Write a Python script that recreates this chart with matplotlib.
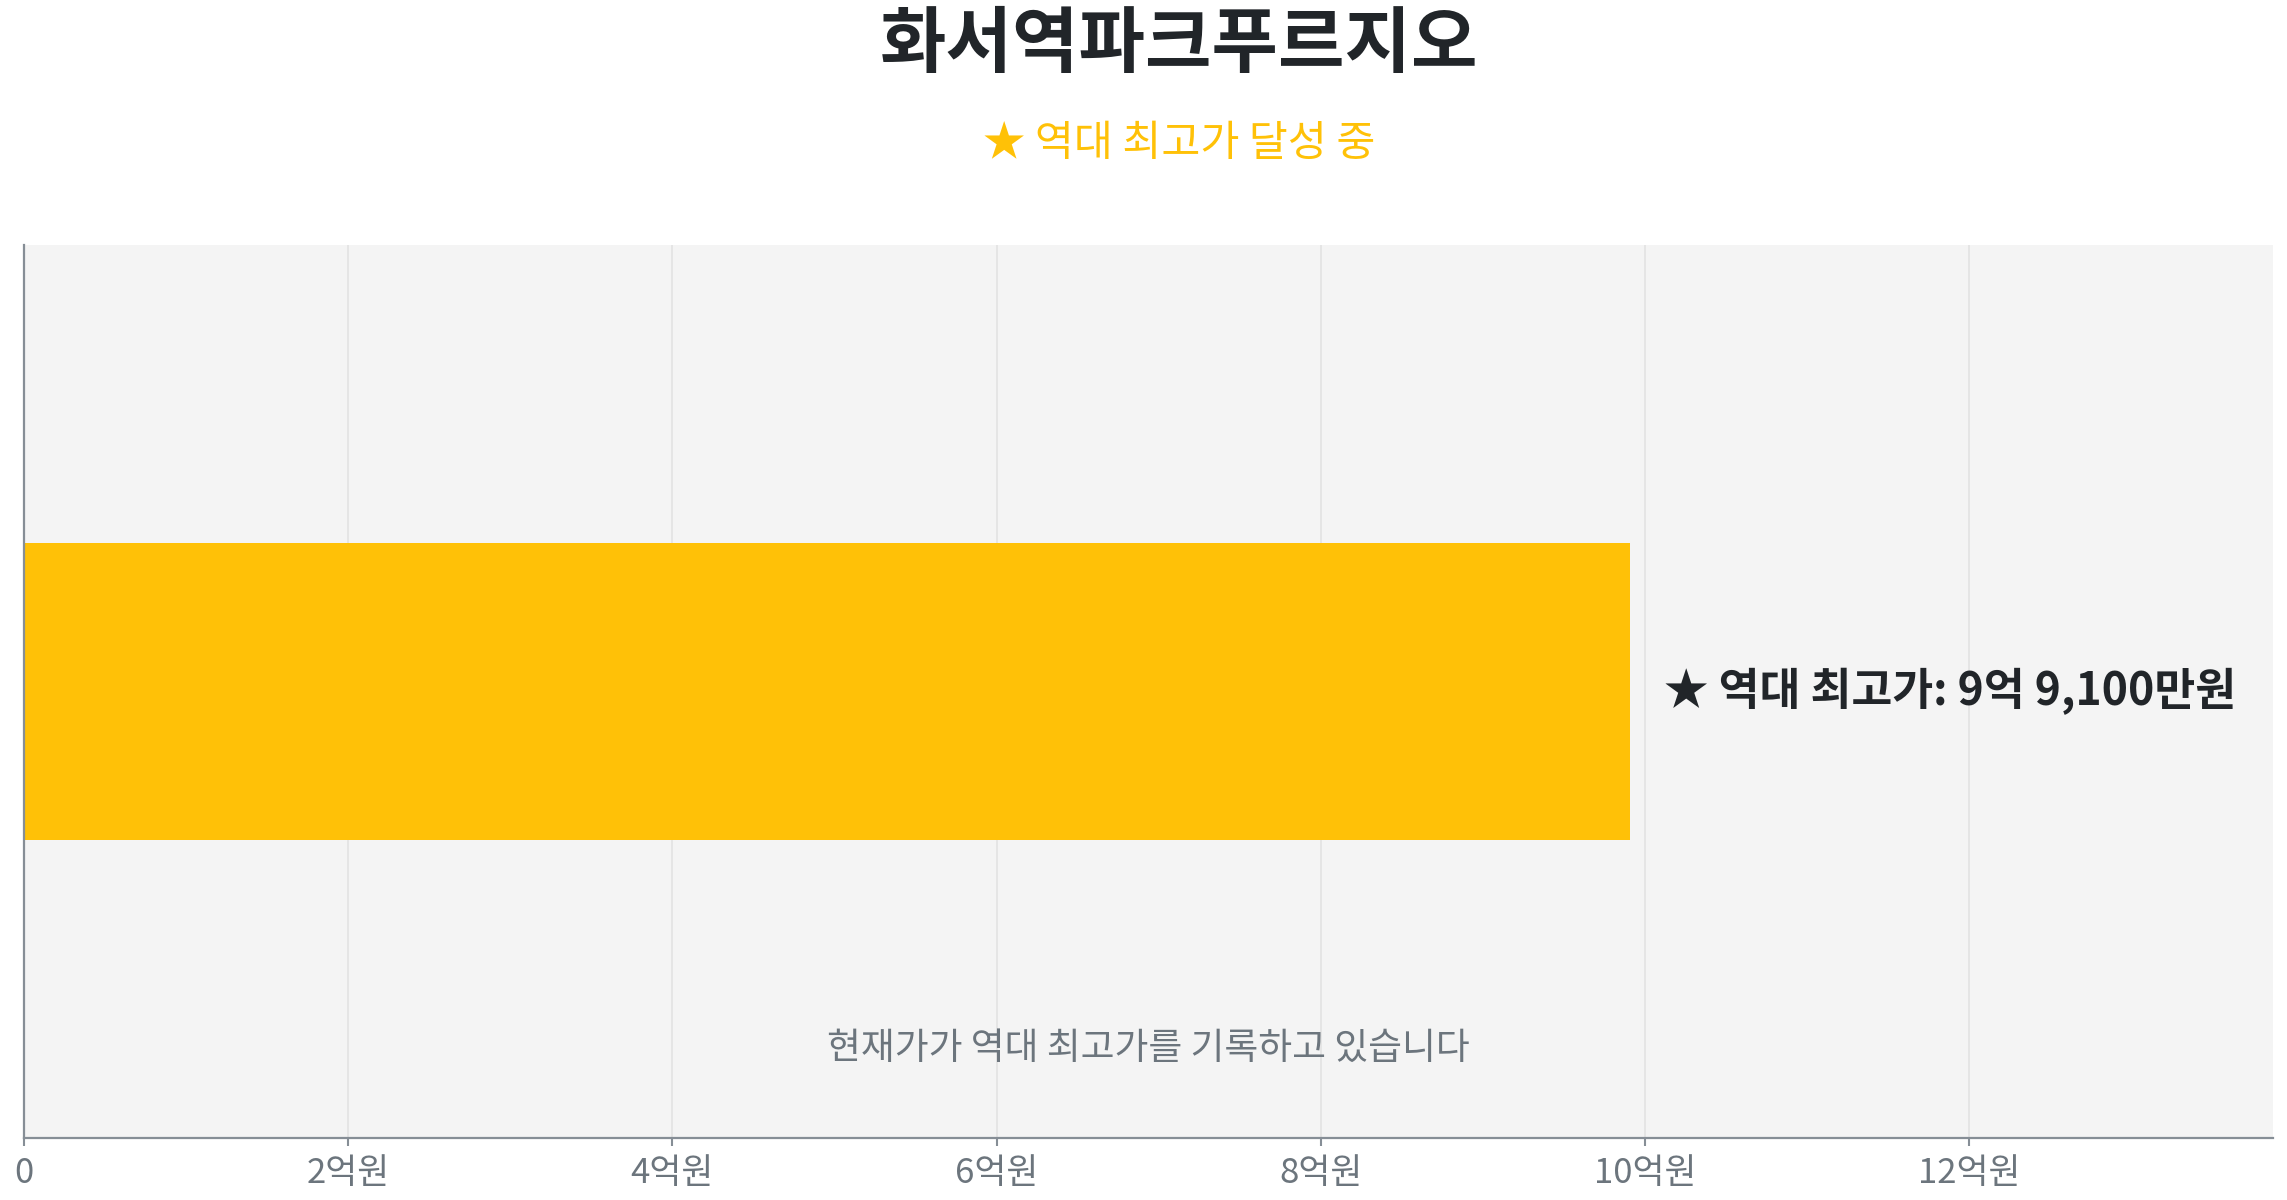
import matplotlib
matplotlib.use("Agg")
import matplotlib.pyplot as plt

plt.rcParams["font.family"] = ["Noto Sans CJK KR", "DejaVu Sans"]

# data
TITLE = "화서역파크푸르지오"
SUBTITLE = "★ 역대 최고가 달성 중"
NOTE = "현재가가 역대 최고가를 기록하고 있습니다"
category = ["역대 최고가"]
price_eok = [9.91]  # 9억 9,100만원
price_label = ["★ 역대 최고가: 9억 9,100만원"]
xticks = [0, 2, 4, 6, 8, 10, 12]
xticklabels = ["0", "2억원", "4억원", "6억원", "8억원", "10억원", "12억원"]

C_BAR = "#FFC107"
C_TEXT = "#212529"
C_GRAY = "#6c757d"
C_AXIS = "#868e96"

fig = plt.figure(figsize=(22.87, 12), dpi=100)
ax = fig.add_axes([24 / 2287, 1 - 1138 / 1200, 2249 / 2287, 893 / 1200])
ax.set_facecolor("#f4f4f4")

ax.barh([0], price_eok, height=1.0, color=C_BAR, zorder=2)
ax.set_xlim(0, max(price_eok) * 1.4)
ax.set_ylim(-1.5, 1.5)
ax.set_yticks([])
ax.set_xticks(xticks)
ax.set_xticklabels(xticklabels)
ax.tick_params(axis="x", labelsize=25, colors=C_AXIS, labelcolor=C_GRAY,
               length=6, width=1.5, pad=7)
ax.grid(axis="x", color="#e3e3e3", linewidth=1.2, zorder=0)
for s in ("top", "right"):
    ax.spines[s].set_visible(False)
for s in ("left", "bottom"):
    ax.spines[s].set_color(C_AXIS)
    ax.spines[s].set_linewidth(1.6)

ax.text(price_eok[0] + 0.21, 0, price_label[0], fontsize=32, fontweight="bold",
        color=C_TEXT, va="center", ha="left", zorder=3)
ax.text(0.5, 0.1, NOTE, transform=ax.transAxes, fontsize=26.5, color=C_GRAY,
        ha="center", va="center")

fig.text(0.5155, 1 - 46 / 1200, TITLE, fontsize=52, fontweight="bold",
         color=C_TEXT, ha="center", va="center")
fig.text(0.5155, 1 - 144 / 1200, SUBTITLE, fontsize=30.5, color=C_BAR,
         ha="center", va="center")

fig.savefig("out.png", dpi=100, facecolor="white")
